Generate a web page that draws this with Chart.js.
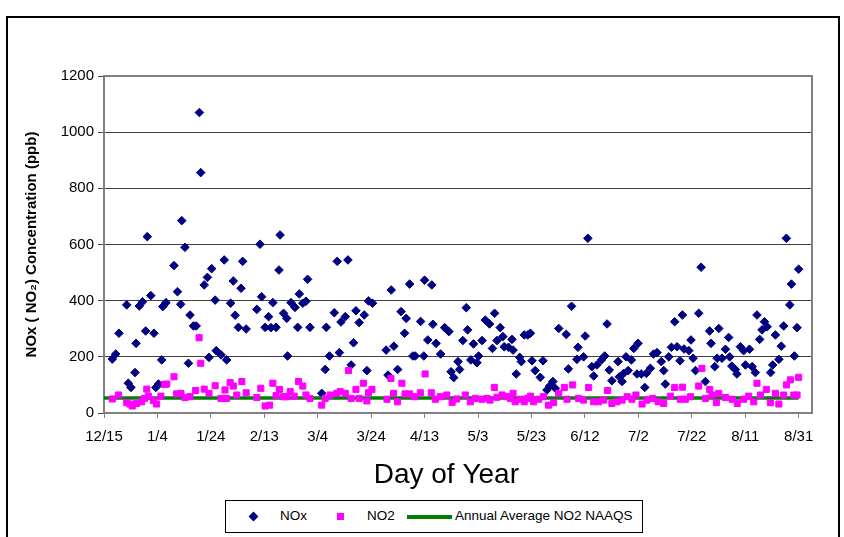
<!DOCTYPE html>
<html>
<head>
<meta charset="utf-8">
<title>NOx and NO2 by day of year</title>
<script src="https://cdn.jsdelivr.net/npm/chart.js@4.4.1/dist/chart.umd.min.js"></script>
<style>
  html, body { margin: 0; padding: 0; background: #fff; }
  #wrap { position: relative; width: 844px; height: 537px; overflow: hidden; }
  #frame { position: absolute; left: 6px; top: 16px; width: 830px; height: 540px; border: 2px solid #000; }
  #chart { position: absolute; left: 0; top: 0; }
  #legend {
    position: absolute; left: 225px; top: 500px; width: 416px; height: 31px;
    border: 1px solid #000; background: #fff;
    font: 13.5px "Liberation Sans", Arial, sans-serif; color: #000;
  }
  #legend .txt { position: absolute; top: 7px; white-space: nowrap; }
  #legend .mk  { position: absolute; }
</style>
</head>
<body>
<div id="wrap">
  <div id="frame"></div>
  <canvas id="chart" width="844" height="537"></canvas>
  <div id="legend">
    <div class="mk" style="left:24px;top:12px;width:7px;height:7px;background:#000080;transform:rotate(45deg);"></div>
    <div class="txt" style="left:54px;">NOx</div>
    <div class="mk" style="left:111px;top:12px;width:7px;height:7px;background:#ff00ff;"></div>
    <div class="txt" style="left:141px;">NO2</div>
    <div class="mk" style="left:181px;top:14px;width:45px;height:4px;background:#008000;"></div>
    <div class="txt" style="left:229px;">Annual Average NO2 NAAQS</div>
  </div>
</div>
<script>
(function () {
  'use strict';

  // ── Data (x = days after 12/15) ──────────────────────────────────────────
  var tickDays   = [0, 20, 40, 60, 80, 100, 120, 140, 160, 180, 200, 220, 240, 260];
  var tickLabels = ['12/15', '1/4', '1/24', '2/13', '3/4', '3/24', '4/13', '5/3',
                    '5/23', '6/12', '7/2', '7/22', '8/11', '8/31'];

  var noxDays = [
    3.1, 4.4, 5.6, 8.5, 9.1, 10.1, 11.6, 12.0, 13.2, 14.4, 15.6, 16.2, 17.5, 18.7, 19.4, 20.4,
    21.6, 22.0, 23.2, 26.2, 27.5, 28.7, 29.1, 30.3, 31.6, 32.2, 33.5, 34.5, 35.7, 36.2, 37.5,
    38.7, 39.3, 40.3, 41.6, 42.0, 43.8, 45.0, 45.9,
    47.4, 48.4, 49.1, 50.3, 51.3, 51.9, 53.2, 57.2, 58.4, 59.0, 60.3, 61.6, 62.5, 63.2, 64.4,
    65.5, 65.9, 67.2, 68.4, 68.7, 70.0, 71.5, 72.5, 73.1, 74.4, 75.6, 76.2, 77.1, 81.5, 82.8,
    83.2, 84.4, 86.2, 87.3, 88.1, 88.7,
    90.3, 91.3, 92.5, 93.4, 94.3, 95.5, 97.4, 98.4, 99.0, 100.5, 105.6, 106.3, 107.5, 108.5,
    109.9, 111.2, 112.5, 113.1, 114.4, 115.6, 116.5, 118.5, 119.7, 120.0, 121.2, 122.7, 123.1,
    124.3, 126.0, 127.5, 129.1, 129.9, 130.9, 132.5, 133.1,
    134.3, 135.6, 136.1, 137.3, 138.3, 139.6, 140.2, 141.5, 142.7, 144.3, 145.4, 146.2, 147.1,
    148.3, 149.3, 149.8, 151.4, 152.7, 153.1, 154.3, 155.6, 156.2, 157.3, 158.6, 159.6, 160.2,
    161.4, 163.3, 164.3, 165.8, 166.8, 168.0, 168.9, 170.2, 173.0, 173.8, 175.0,
    177.0, 177.4, 179.5, 180.1, 181.1, 182.6, 183.3, 184.5, 186.2, 187.4, 188.3, 189.1, 190.1,
    192.4, 192.9, 193.9, 194.5, 195.4, 196.2, 197.4, 198.3, 199.5, 199.9, 201.1, 202.4, 203.0,
    204.5, 205.7, 207.0, 208.6, 209.5, 210.1, 211.4, 212.4, 213.6, 214.5, 215.6, 216.5, 217.1,
    218.9, 219.7, 220.5, 221.4, 222.6, 223.5, 225.1, 226.7, 227.2, 228.6, 229.5, 230.1, 231.3,
    232.6, 233.8, 234.2, 235.0, 236.3, 236.9, 238.2, 239.4, 240.1, 241.6, 242.6, 243.8, 244.4,
    245.4, 246.3, 247.2, 248.2, 249.5, 250.3, 251.3, 252.6, 253.5, 254.4, 255.4, 256.7, 257.3,
    258.4, 259.4, 260.0
  ];
  var noxValues = [
    192, 210, 284, 385, 106, 91, 144, 248, 381, 396, 292, 628, 418, 284, 91, 103,
    189, 379, 393, 525, 432, 387, 685, 590, 177, 349, 310, 310, 1070, 856, 456,
    483, 198, 514, 402, 222, 207, 545, 189,
    391, 470, 348, 305, 444, 540, 299, 369, 601, 414, 305, 343, 304, 393, 305,
    509, 634, 355, 337, 203, 393, 376, 305, 424, 391, 398, 476, 305, 70, 155,
    305, 203, 357, 540, 215, 324,
    343, 545, 171, 250, 364, 322, 349, 151, 399, 391, 224, 135, 438, 238,
    155, 361, 284, 337, 459, 203, 203, 326, 203, 473, 260, 456, 316,
    248, 210, 304, 290, 147, 126, 183, 155,
    258, 375, 296, 189, 246, 179, 203, 258, 331, 317, 230, 355, 258,
    304, 272, 236, 234, 262, 224, 139, 198, 183, 278, 278, 284, 186,
    151, 127, 186, 82, 96, 112, 88, 301, 280, 157, 380,
    191, 234, 200, 274, 622, 165, 132, 171, 189, 203, 317, 153, 115,
    183, 129, 112, 141, 200, 151, 189, 230, 139, 248, 139, 91, 141,
    159, 210, 215, 183, 151, 103, 200, 234, 325, 236, 186, 349, 228,
    222, 260, 195, 151, 355, 519, 112, 292, 248, 165, 195, 301, 195,
    227, 269, 200, 167, 155, 139, 236, 222, 171, 227, 165, 144, 349,
    262, 296, 325, 307, 144, 171, 278, 191, 238, 310, 622, 385, 459,
    203, 304, 512
  ];

  var no2Days = [
    3.1, 5.4, 8.5, 9.7, 10.6, 12.2, 14.1, 15.1, 16.0, 16.6, 18.5, 19.7, 21.3, 22.6, 23.5, 26.2,
    27.2, 28.8, 30.3, 32.2, 34.3, 35.6, 36.2, 37.5, 39.3, 41.6, 43.8,
    45.3, 45.9, 47.2, 48.4, 49.7, 51.6, 53.2, 57.2, 58.7, 60.3, 62.0, 63.2, 64.4, 65.7, 67.2,
    68.4, 69.7, 71.2, 72.8, 74.4, 75.6, 77.1, 81.5, 82.8, 84.7, 87.1, 88.4,
    90.3, 91.5, 92.5, 94.3, 95.5, 97.1, 98.4, 99.0, 100.3, 105.9, 107.4, 108.4, 109.9, 111.5,
    112.7, 114.3, 116.3, 118.4, 120.2, 122.5, 124.0, 125.9, 128.3, 130.3, 132.0,
    135.2, 137.1, 139.0, 141.5, 143.3, 144.5, 146.1, 147.1, 149.0, 150.8, 152.1, 153.1, 153.9,
    155.8, 157.3, 158.6, 159.6, 160.8, 162.7, 164.5, 166.4, 168.3, 170.2, 172.3, 173.3,
    175.4, 177.6, 179.5, 181.4, 183.3, 185.1, 187.0, 188.5, 190.1, 192.0, 193.9, 195.8, 197.6,
    199.1, 201.4, 203.2, 205.4, 207.4, 209.5, 212.0, 213.6, 215.7, 216.5,
    217.6, 219.5, 222.6, 223.8, 225.1, 226.7, 227.6, 229.2, 230.1, 232.6, 235.1, 237.0, 239.4,
    241.3, 243.2, 244.4, 245.7, 247.9, 249.4, 251.3, 252.6, 254.4, 255.4, 256.9, 258.2, 259.4,
    260.0
  ];
  var no2Values = [
    50, 64, 37, 32, 25, 34, 40, 52, 85, 60, 44, 32, 60, 102, 103, 129,
    68, 70, 55, 58, 80, 268, 177, 85, 70, 97, 52,
    82, 52, 108, 96, 64, 112, 72, 55, 88, 25, 28, 106, 62, 84, 58,
    58, 76, 60, 112, 96, 64, 52, 28, 52, 64, 70, 76,
    70, 151, 52, 84, 52, 106, 43, 72, 84, 49, 123, 70, 40, 106,
    68, 68, 58, 72, 139, 72, 49, 58, 64, 38, 50,
    64, 40, 52, 49, 52, 46, 91, 56, 64, 58, 52, 70, 40,
    49, 40, 52, 60, 40, 49, 58, 28, 37, 70, 91, 49,
    100, 52, 46, 91, 40, 40, 46, 80, 34, 40, 46, 58, 49,
    64, 32, 46, 52, 40, 34, 60, 91, 49, 92,
    49, 58, 96, 159, 52, 84, 64, 37, 70, 55, 49, 34, 49,
    60, 40, 106, 64, 84, 37, 70, 32, 64, 100, 118, 64, 64,
    127
  ];

  var naaqsDays   = [0, 260];
  var naaqsValues = [53, 53];

  // ── Helpers ──────────────────────────────────────────────────────────────
  function _points(xs, ys) {
    return xs.map(function (x, i) { return { x: x, y: ys[i] }; });
  }

  // gray box round the plot area, drawn under the markers
  var plotFrame = {
    id: 'plotFrame',
    beforeDatasetsDraw: function (chart) {
      var a = chart.chartArea, ctx = chart.ctx;
      ctx.save();
      ctx.strokeStyle = '#808080';
      ctx.lineWidth = 2;
      ctx.strokeRect(a.left, a.top, a.right - a.left, a.bottom - a.top);
      ctx.restore();
    }
  };

  var FONT = '"Liberation Sans", Arial, sans-serif';

  // ── Chart ────────────────────────────────────────────────────────────────
  new Chart(document.getElementById('chart').getContext('2d'), {
    type: 'scatter',
    data: {
      datasets: [
        {
          label: 'NOx',
          data: _points(noxDays, noxValues),
          pointStyle: 'rectRot', pointRadius: 4.3, pointHoverRadius: 4.3,
          backgroundColor: '#000080', borderColor: '#000080', borderWidth: 1,
          order: 3
        },
        {
          label: 'NO2',
          data: _points(no2Days, no2Values),
          pointStyle: 'rect', pointRadius: 4.3, pointHoverRadius: 4.3,
          backgroundColor: '#ff00ff', borderColor: '#ff00ff', borderWidth: 1,
          order: 1
        },
        {
          label: 'Annual Average NO2 NAAQS',
          type: 'line',
          data: _points(naaqsDays, naaqsValues),
          showLine: true, pointRadius: 0, borderColor: '#008000', borderWidth: 3.5,
          order: 2
        }
      ]
    },
    options: {
      responsive: false,
      animation: false,
      layout: { padding: { left: 8, right: 32, top: 76, bottom: 0 } },
      plugins: { legend: { display: false }, tooltip: { enabled: false } },
      scales: {
        x: {
          type: 'linear', min: 0, max: 265,
          afterBuildTicks: function (s) { s.ticks = tickDays.map(function (v) { return { value: v }; }); },
          afterFit: function (s) { s.height = 124; },
          border: { display: false },
          grid: { drawOnChartArea: false, drawTicks: true, tickLength: 5, color: '#808080' },
          ticks: {
            autoSkip: false, maxRotation: 0, padding: 10, color: '#000',
            font: { family: FONT, size: 15 },
            callback: function (v) { return tickLabels[tickDays.indexOf(v)]; }
          },
          title: {
            // trailing spaces nudge the centred title a little left, as in the original
            display: true, text: 'Day of Year   ', color: '#000',
            font: { family: FONT, size: 28 }, padding: { top: 0, bottom: 45 }
          }
        },
        y: {
          min: 0, max: 1200,
          afterFit: function (s) { s.width = 96; },
          border: { display: false },
          grid: { color: '#404040', lineWidth: 1, tickLength: 6 },
          ticks: {
            stepSize: 200, padding: 4, color: '#000',
            font: { family: FONT, size: 15 },
            callback: function (v) { return String(v); }
          },
          title: {
            display: true, text: 'NOx ( NO\u2082) Concentration (ppb)', color: '#000',
            font: { family: FONT, size: 15, weight: 'bold' }, padding: { top: 15, bottom: 0 }
          }
        }
      }
    },
    plugins: [plotFrame]
  });
}());
</script>
</body>
</html>
